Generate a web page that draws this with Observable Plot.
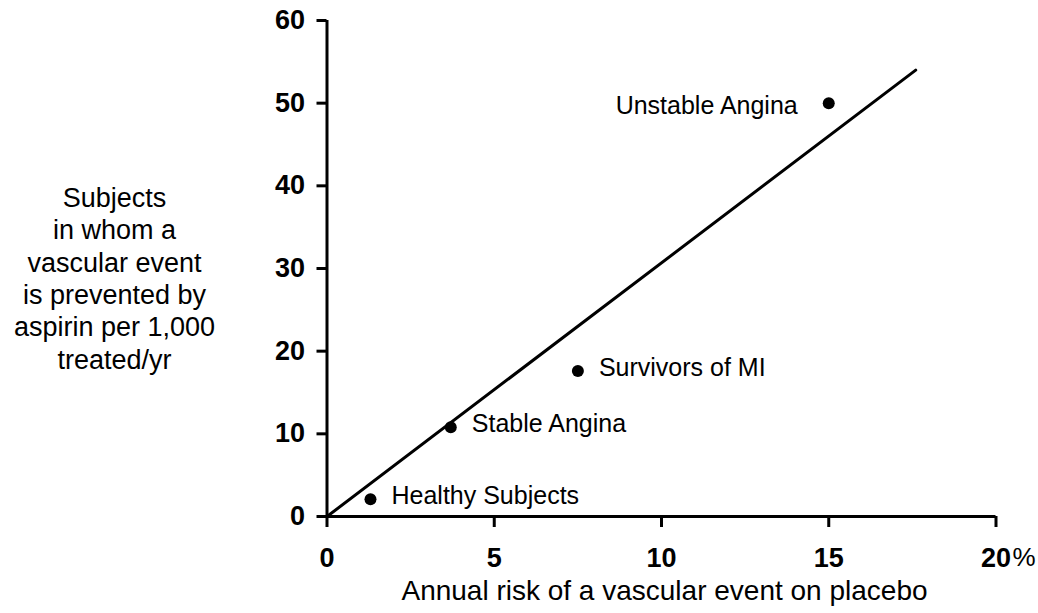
<!DOCTYPE html>
<html>
<head>
<meta charset="utf-8">
<script src="https://cdn.jsdelivr.net/npm/d3@7"></script>
<script src="https://cdn.jsdelivr.net/npm/@observablehq/plot@0.6"></script>
<style>
  html, body { margin: 0; padding: 0; background: #fff; }
  #chart svg { display: block; }
</style>
</head>
<body>
<div id="chart"></div>
<script>
// Data
const groups = ["Healthy Subjects", "Stable Angina", "Survivors of MI", "Unstable Angina"];
const risk = [1.3, 3.7, 7.5, 15.0];          // annual risk on placebo (%)
const prevented = [2.1, 10.8, 17.6, 50.0];   // events prevented per 1,000 treated/yr
const fitRisk = [0, 17.6];
const fitPrevented = [0, 54];
const xTicks = [0, 5, 10, 15, 20];
const yTicks = [0, 10, 20, 30, 40, 50, 60];
const yLabel = "Subjects\nin whom a\nvascular event\nis prevented by\naspirin per 1,000\ntreated/yr";
const xLabel = "Annual risk of a vascular event on placebo";
const unitLabel = "%";

const points = groups.map((g, i) => ({group: g, risk: risk[i], prevented: prevented[i]}));
const fit = fitRisk.map((r, i) => ({risk: r, prevented: fitPrevented[i]}));
const rightLabels = points.filter(d => d.group !== "Unstable Angina");
const leftLabels = points.filter(d => d.group === "Unstable Angina");

const font = "'Liberation Sans', Arial, Helvetica, sans-serif";

const chart = Plot.plot({
  width: 1038,
  height: 613,
  marginLeft: 326.5,
  marginRight: 42.5,
  marginTop: 20,
  marginBottom: 97,
  style: {fontFamily: font, color: "#000", background: "#fff"},
  x: {domain: [0, 20]},
  y: {domain: [0, 60]},
  marks: [
    Plot.axisY({ticks: yTicks, tickSize: 10, tickPadding: 12, fontSize: 27, fontWeight: "bold", strokeWidth: 3, label: null}),
    Plot.axisX({ticks: xTicks, tickSize: 11, tickPadding: 20, fontSize: 27, fontWeight: "bold", strokeWidth: 3, label: null}),
    Plot.text([xTicks[xTicks.length - 1]], {x: d => d, frameAnchor: "bottom", text: () => unitLabel, textAnchor: "start", lineAnchor: "top", dx: 16.5, dy: 31, fontSize: 26}),
    Plot.ruleX([0], {y1: yTicks[0], y2: yTicks[yTicks.length - 1], strokeWidth: 3}),
    Plot.ruleY([0], {x1: xTicks[0], x2: xTicks[xTicks.length - 1], strokeWidth: 3}),
    Plot.line(fit, {x: "risk", y: "prevented", stroke: "#000", strokeWidth: 3}),
    Plot.dot(points, {x: "risk", y: "prevented", r: 6, fill: "#000"}),
    Plot.text(rightLabels, {x: "risk", y: "prevented", text: "group", textAnchor: "start", dx: 21, dy: -3, fontSize: 25}),
    Plot.text(leftLabels, {x: "risk", y: "prevented", text: "group", textAnchor: "end", dx: -31, dy: 3, fontSize: 25}),
    Plot.text([yLabel], {frameAnchor: "left", textAnchor: "middle", lineAnchor: "middle", lineHeight: 1.2, dx: -212.5, dy: 9, fontSize: 27}),
    Plot.text([xLabel], {frameAnchor: "bottom", textAnchor: "middle", lineAnchor: "top", dx: 3, dy: 64, fontSize: 28})
  ]
});
document.getElementById("chart").appendChild(chart);
</script>
</body>
</html>
